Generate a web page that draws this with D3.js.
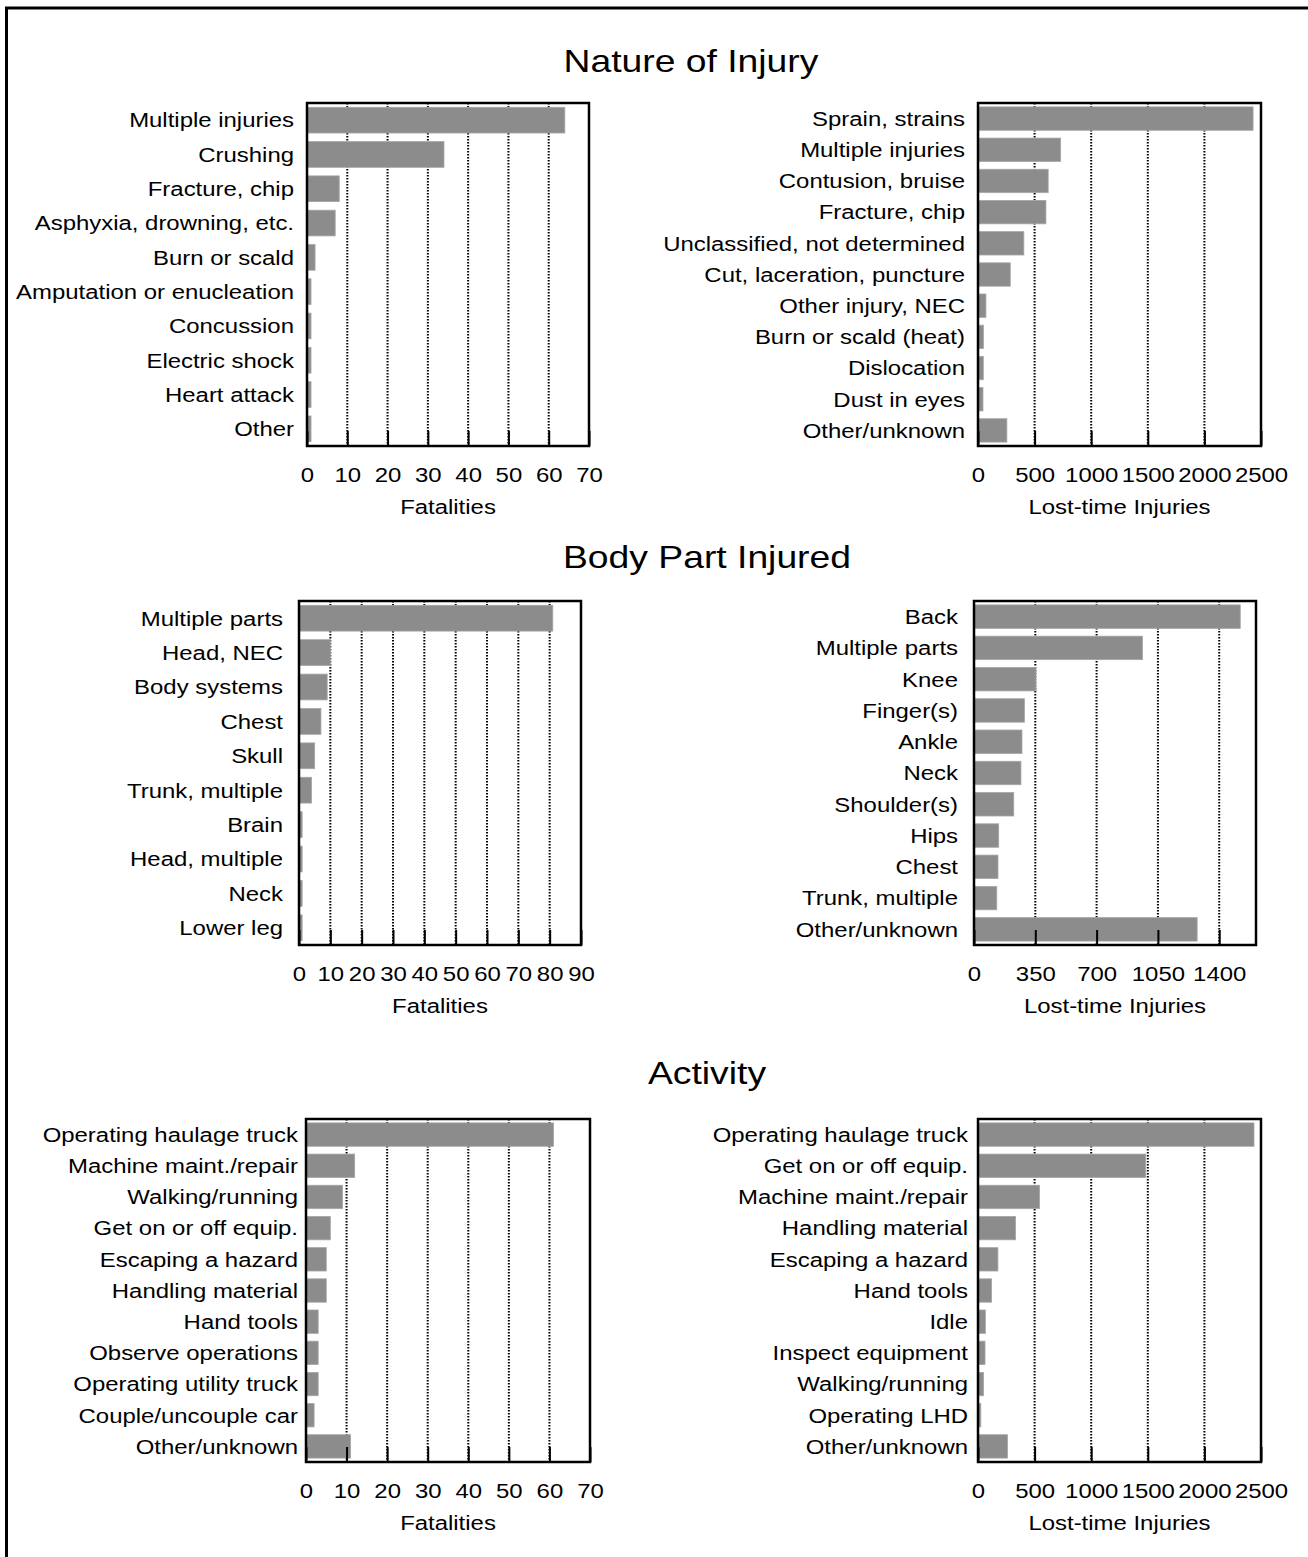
<!DOCTYPE html>
<html>
<head>
<meta charset="utf-8">
<script src="https://cdn.jsdelivr.net/npm/d3@7"></script>
<style>
  html, body { margin: 0; padding: 0; background: #fff; }
  svg { display: block; }
  text { font-family: "Liberation Sans", Arial, sans-serif; fill: #000; }
</style>
</head>
<body>
<svg id="chart" width="1308" height="1557"></svg>
<script>
// ---------- DATA ----------
const natureFatCats = ["Multiple injuries", "Crushing", "Fracture, chip", "Asphyxia, drowning, etc.", "Burn or scald",
  "Amputation or enucleation", "Concussion", "Electric shock", "Heart attack", "Other"];
const natureFatVals = [64, 34, 8, 7, 2, 1, 1, 1, 1, 1];

const natureLtiCats = ["Sprain, strains", "Multiple injuries", "Contusion, bruise", "Fracture, chip", "Unclassified, not determined",
  "Cut, laceration, puncture", "Other injury, NEC", "Burn or scald (heat)", "Dislocation", "Dust in eyes", "Other/unknown"];
const natureLtiVals = [2430, 730, 620, 600, 405, 285, 70, 48, 47, 44, 255];

const bodyFatCats = ["Multiple parts", "Head, NEC", "Body systems", "Chest", "Skull", "Trunk, multiple", "Brain",
  "Head, multiple", "Neck", "Lower leg"];
const bodyFatVals = [81, 10, 9, 7, 5, 4, 1, 1, 1, 1];

const bodyLtiCats = ["Back", "Multiple parts", "Knee", "Finger(s)", "Ankle", "Neck", "Shoulder(s)", "Hips", "Chest",
  "Trunk, multiple", "Other/unknown"];
const bodyLtiVals = [1520, 962, 354, 288, 274, 268, 227, 141, 137, 130, 1274];

const actFatCats = ["Operating haulage truck", "Machine maint./repair", "Walking/running", "Get on or off equip.",
  "Escaping a hazard", "Handling material", "Hand tools", "Observe operations", "Operating utility truck",
  "Couple/uncouple car", "Other/unknown"];
const actFatVals = [61, 12, 9, 6, 5, 5, 3, 3, 3, 2, 11];

const actLtiCats = ["Operating haulage truck", "Get on or off equip.", "Machine maint./repair", "Handling material",
  "Escaping a hazard", "Hand tools", "Idle", "Inspect equipment", "Walking/running", "Operating LHD", "Other/unknown"];
const actLtiVals = [2438, 1482, 544, 332, 176, 120, 65, 62, 49, 25, 261];

const fatTicks70 = [0, 10, 20, 30, 40, 50, 60, 70];
const fatTicks90 = [0, 10, 20, 30, 40, 50, 60, 70, 80, 90];
const ltiTicks2500 = [0, 500, 1000, 1500, 2000, 2500];
const ltiTicks1400 = [0, 350, 700, 1050, 1400];

const sectionTitles = ["Nature of Injury", "Body Part Injured", "Activity"];
const axisTitles = ["Fatalities", "Lost-time Injuries"];

// ---------- LAYOUT ----------
const svg = d3.select("#chart");

// widen glyphs horizontally (the reference text is horizontally stretched)
function hscale(sel, sx) {
  sel.each(function () {
    const x = +(this.getAttribute("x") || 0);
    this.setAttribute("x", (x / sx).toFixed(2));
    this.setAttribute("transform", `scale(${sx},1)`);
  });
}
const SX = 1.14;
const FS = "21px";

// outer border (only top and left visible)
svg.append("rect")
  .attr("x", 6.5).attr("y", 8)
  .attr("width", 1400).attr("height", 1700)
  .attr("fill", "none").attr("stroke", "#000").attr("stroke-width", 3);

// section titles
const titlePos = [[691, 72], [707, 568], [707, 1084]];
sectionTitles.forEach((t, i) => {
  svg.append("text")
    .attr("x", titlePos[i][0]).attr("y", titlePos[i][1])
    .attr("text-anchor", "middle")
    .style("font-size", "32px")
    .text(t)
    .call(hscale, 1.165);
});

const panels = [
  { cats: natureFatCats, vals: natureFatVals, x0: 307, x1: 589, y0: 103, y1: 446, max: 70, ticks: fatTicks70, gap: 13, title: axisTitles[0] },
  { cats: natureLtiCats, vals: natureLtiVals, x0: 978, x1: 1261, y0: 103, y1: 446, max: 2500, ticks: ltiTicks2500, gap: 13, title: axisTitles[1] },
  { cats: bodyFatCats, vals: bodyFatVals, x0: 299, x1: 581, y0: 601, y1: 945, max: 90, ticks: fatTicks90, gap: 16, title: axisTitles[0] },
  { cats: bodyLtiCats, vals: bodyLtiVals, x0: 974, x1: 1256, y0: 601, y1: 945, max: 1610, ticks: ltiTicks1400, gap: 16, title: axisTitles[1] },
  { cats: actFatCats, vals: actFatVals, x0: 306, x1: 590, y0: 1119, y1: 1462, max: 70, ticks: fatTicks70, gap: 8, title: axisTitles[0] },
  { cats: actLtiCats, vals: actLtiVals, x0: 978, x1: 1261, y0: 1119, y1: 1462, max: 2500, ticks: ltiTicks2500, gap: 10, title: axisTitles[1] }
];

panels.forEach(p => {
  const x = d3.scaleLinear().domain([0, p.max]).range([p.x0, p.x1]);
  const y = d3.scaleBand().domain(p.cats).range([p.y0, p.y1]).paddingInner(0.25).paddingOuter(0.125);
  const g = svg.append("g");

  // dotted gridlines
  g.selectAll("line.grid").data(p.ticks).join("line")
    .attr("class", "grid")
    .attr("x1", d => x(d)).attr("x2", d => x(d))
    .attr("y1", p.y0).attr("y2", p.y1)
    .attr("stroke", "#000").attr("stroke-width", 2)
    .attr("stroke-dasharray", "1.5,1.5");

  // bars
  g.selectAll("rect.bar").data(p.vals).join("rect")
    .attr("class", "bar")
    .attr("x", x(0))
    .attr("y", (d, i) => y(p.cats[i]))
    .attr("width", d => x(d) - x(0))
    .attr("height", y.bandwidth())
    .attr("fill", "#8c8c8c")
    .attr("stroke", "#a6a6a6").attr("stroke-width", 0.8);

  // bottom axis with inward ticks
  const ax = g.append("g")
    .attr("transform", `translate(0,${p.y1})`)
    .call(d3.axisBottom(x).tickValues(p.ticks).tickFormat(d3.format("d"))
      .tickSizeInner(-15).tickSizeOuter(0).tickPadding(21));
  ax.select(".domain").remove();
  ax.selectAll(".tick line").attr("stroke", "#000").attr("stroke-width", 2);
  ax.attr("font-family", null).attr("font-size", null);
  ax.selectAll(".tick text")
    .style("font-size", FS).style("fill", "#000")
    .call(hscale, SX);

  // frame
  g.append("rect")
    .attr("x", p.x0).attr("y", p.y0)
    .attr("width", p.x1 - p.x0).attr("height", p.y1 - p.y0)
    .attr("fill", "none").attr("stroke", "#000").attr("stroke-width", 2.5);

  // category labels
  g.selectAll("text.cat").data(p.cats).join("text")
    .attr("class", "cat")
    .attr("x", p.x0 - p.gap)
    .attr("y", d => y(d) + y.bandwidth() / 2)
    .attr("dy", "0.35em")
    .attr("text-anchor", "end")
    .style("font-size", FS)
    .text(d => d)
    .call(hscale, SX);

  // axis title
  g.append("text")
    .attr("x", (p.x0 + p.x1) / 2)
    .attr("y", p.y1 + 68)
    .attr("text-anchor", "middle")
    .style("font-size", FS)
    .text(p.title)
    .call(hscale, SX);
});
</script>
</body>
</html>
